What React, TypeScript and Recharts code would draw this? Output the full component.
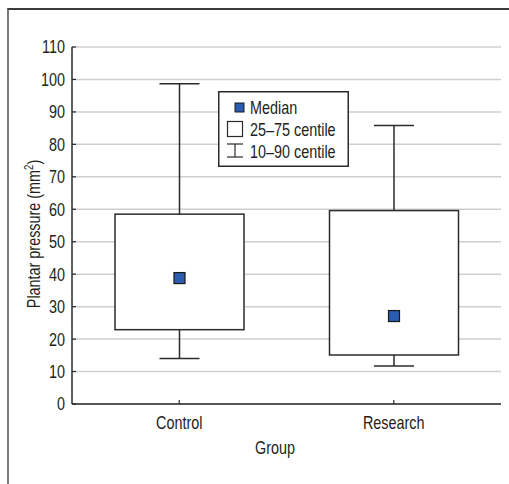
import React from 'react';
import { ComposedChart, Bar, XAxis, YAxis, CartesianGrid } from 'recharts';

const groups = ['Control', 'Research'];
const p10 = [14.0, 11.7];
const q1 = [22.9, 15.1];
const median = [38.8, 27.1];
const q3 = [58.5, 59.6];
const p90 = [98.7, 85.8];
const yTicks = [0, 10, 20, 30, 40, 50, 60, 70, 80, 90, 100, 110];
const legendLabels = ['Median', '25\u201375 centile', '10\u201390 centile'];

const data = groups.map((g, i) => ({
  group: g,
  whisker: [p10[i], p90[i]],
  p10: p10[i],
  q1: q1[i],
  median: median[i],
  q3: q3[i],
  p90: p90[i],
}));

const FONT = '"Liberation Sans", Arial, sans-serif';
const FS = 18;
const SX = 0.8;
const TEXT = '#231f20';
const LINE = '#2b2b2b';
const BLUE = '#2a5db0';

// condensed text: horizontal scale around the anchor point
const CText = ({ x, y, anchor = 'start', rotate = 0, dy, children }: any) => (
  <g transform={`translate(${x} ${y}) rotate(${rotate}) scale(${SX} 1)`}>
    <text x={0} y={0} dy={dy} textAnchor={anchor} fontFamily={FONT} fontSize={FS} fill={TEXT}>
      {children}
    </text>
  </g>
);

const BoxShape = (props: any) => {
  const { x, y, width, height, payload } = props;
  if (!payload) return null;
  const span = payload.p90 - payload.p10;
  const k = height / span;
  const yOf = (v: number) => y + (payload.p90 - v) * k;
  const cx = x + width / 2;
  const capW = 40;
  const yTop = yOf(payload.p90);
  const yBot = yOf(payload.p10);
  const yQ3 = yOf(payload.q3);
  const yQ1 = yOf(payload.q1);
  const yMed = yOf(payload.median);
  const sq = 11;
  return (
    <g>
      <line x1={cx} x2={cx} y1={yTop} y2={yBot} stroke={LINE} strokeWidth={1.5} />
      <line x1={cx - capW / 2} x2={cx + capW / 2} y1={yTop} y2={yTop} stroke={LINE} strokeWidth={1.5} />
      <line x1={cx - capW / 2} x2={cx + capW / 2} y1={yBot} y2={yBot} stroke={LINE} strokeWidth={1.5} />
      <rect x={x} y={yQ3} width={width} height={yQ1 - yQ3} fill="#ffffff" stroke={LINE} strokeWidth={1.5} />
      <rect x={cx - sq / 2} y={yMed - sq / 2} width={sq} height={sq} fill={BLUE} stroke="#1a1a1a" strokeWidth={1.2} />
    </g>
  );
};

const LeftTick = (props: any) => {
  const { x, y, payload } = props;
  const ax = x + 7;
  return (
    <g>
      <line x1={ax} x2={ax + 4} y1={y} y2={y} stroke={LINE} strokeWidth={1.2} />
      <CText x={x} y={y} dy="0.36em" anchor="end">
        {payload.value}
      </CText>
    </g>
  );
};

const RightTick = (props: any) => {
  const { x, y } = props;
  return <line x1={x - 4} x2={x} y1={y} y2={y} stroke={LINE} strokeWidth={1.2} />;
};

const BottomTick = (props: any) => {
  const { x, y, payload } = props;
  const ay = y - 12;
  return (
    <g>
      <line x1={x} x2={x} y1={ay - 4} y2={ay} stroke={LINE} strokeWidth={1.2} />
      <CText x={x} y={y} dy="0.71em" anchor="middle">
        {payload.value}
      </CText>
    </g>
  );
};

const TopTick = (props: any) => {
  const { x, y } = props;
  return <line x1={x} x2={x} y1={y} y2={y + 4} stroke={LINE} strokeWidth={1.2} />;
};

const Legend = () => (
  <svg width={131} height={76} style={{ position: 'absolute', left: 218, top: 91 }}>
    <rect x={0.75} y={0.75} width={129.5} height={74.5} fill="#fff" stroke={LINE} strokeWidth={1.5} />
    <rect x={17} y={12} width={9} height={9} fill={BLUE} stroke="#1a1a1a" strokeWidth={1} />
    <rect x={9.5} y={30.5} width={15} height={15} fill="#fff" stroke={LINE} strokeWidth={1.2} />
    <line x1={9} x2={25} y1={53} y2={53} stroke={LINE} strokeWidth={1.2} />
    <line x1={17} x2={17} y1={53} y2={66} stroke={LINE} strokeWidth={1.2} />
    <line x1={9} x2={25} y1={66} y2={66} stroke={LINE} strokeWidth={1.2} />
    {legendLabels.map((l, i) => (
      <CText key={l} x={32} y={23 + i * 22}>
        {l}
      </CText>
    ))}
  </svg>
);

export default function App() {
  return (
    <div style={{ position: 'absolute', left: 0, top: 0, width: 509, height: 484, background: '#fff' }}>
      <div
        style={{
          position: 'absolute',
          left: 7,
          top: 8,
          width: 502,
          height: 476,
          borderLeft: '2px solid #7a7a7a',
          borderTop: '2px solid #3a3a3a',
          boxSizing: 'border-box',
        }}
      />
      <ComposedChart
        width={509}
        height={484}
        data={data}
        margin={{ top: 47, right: 8, bottom: 0, left: 0 }}
        style={{ position: 'absolute', left: 0, top: 0 }}
      >
        <CartesianGrid vertical={false} stroke="#cfcfcf" strokeWidth={1.5} />
        <XAxis
          dataKey="group"
          xAxisId={0}
          height={80}
          tickSize={0}
          tickMargin={12}
          tick={<BottomTick />}
          axisLine={{ stroke: LINE, strokeWidth: 1.5 }}
          label={{
            content: () => (
              <CText x={275} y={454} anchor="middle">
                Group
              </CText>
            ),
          }}
        />
        <XAxis
          dataKey="group"
          xAxisId="top"
          orientation="top"
          height={0}
          tickSize={0}
          tick={<TopTick />}
          axisLine={{ stroke: LINE, strokeWidth: 1.5 }}
        />
        <YAxis
          yAxisId={0}
          width={72}
          domain={[0, 110]}
          ticks={yTicks}
          type="number"
          tickSize={0}
          tickMargin={7}
          tick={<LeftTick />}
          axisLine={{ stroke: LINE, strokeWidth: 1.5 }}
          label={{
            content: () => (
              <CText x={40} y={234} rotate={-90} anchor="middle">
                Plantar pressure (mm
                <tspan dy={-7} fontSize={12}>2</tspan>
                <tspan dy={7}>)</tspan>
              </CText>
            ),
          }}
        />
        <YAxis
          yAxisId="r"
          orientation="right"
          width={0}
          domain={[0, 110]}
          ticks={yTicks}
          type="number"
          tickSize={0}
          tick={<RightTick />}
          axisLine={{ stroke: LINE, strokeWidth: 1.5 }}
        />
        <Bar
          dataKey="whisker"
          xAxisId={0}
          yAxisId={0}
          barSize={129}
          shape={<BoxShape />}
          isAnimationActive={false}
        />
      </ComposedChart>
      <Legend />
    </div>
  );
}
